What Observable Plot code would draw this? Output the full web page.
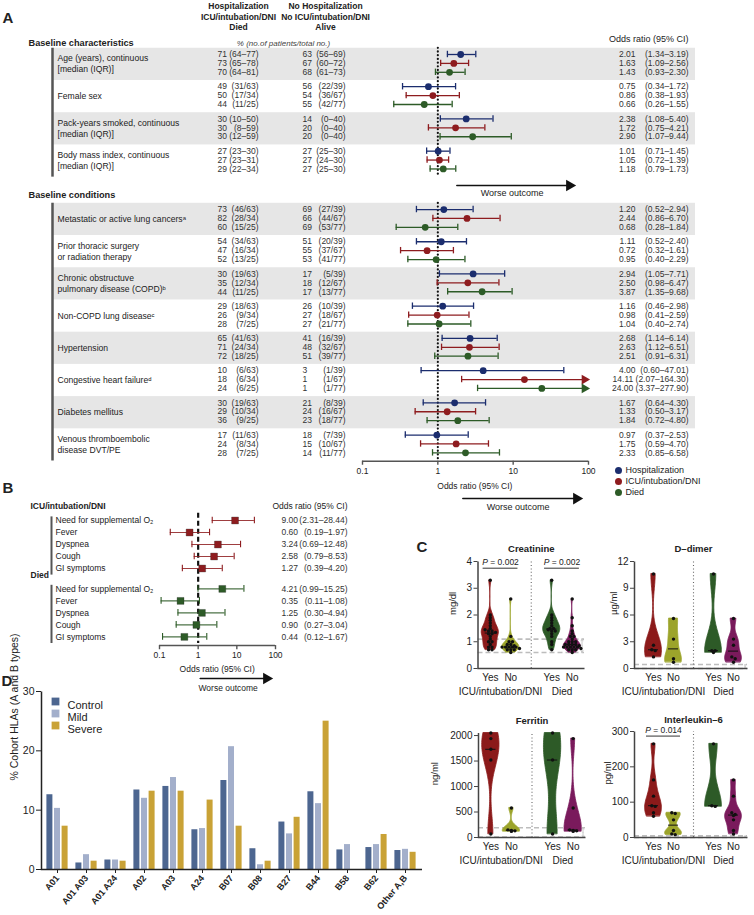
<!DOCTYPE html>
<html><head><meta charset="utf-8">
<script src="https://cdn.jsdelivr.net/npm/d3@7"></script>
<script src="https://cdn.jsdelivr.net/npm/@observablehq/plot@0.6"></script>
<style>
body{margin:0;background:#fff;}
#page{position:relative;width:754px;height:915px;overflow:hidden;background:#fff;}
#page svg{position:absolute;}
</style></head><body><div id="page"></div><script>
// ================= DATA =================
// Panel A
const outcomes = ["Hospitalization", "ICU/intubation/DNI", "Died"];
const outcomeColors = ["#1b2d6e", "#8e1c1f", "#2d5b27"];

const characteristicLabels = [
  "Age (years), continuous\n[median (IQR)]",
  "Female sex",
  "Pack-years smoked, continuous\n[median (IQR)]",
  "Body mass index, continuous\n[median (IQR)]"
];
const characteristicCases = ["71 (64–77)","73 (65–78)","70 (64–81)","49 (31/63)","50 (17/34)","44 (11/25)","30 (10–50)","30 (8–59)","30 (12–59)","27 (23–30)","27 (23–31)","29 (22–34)"];
const characteristicControls = ["63 (56–69)","67 (60–72)","68 (61–73)","56 (22/39)","54 (36/67)","55 (42/77)","14 (0–40)","20 (0–40)","20 (0–40)","27 (25–30)","27 (24–30)","27 (25–30)"];
const characteristicOR = [2.01,1.63,1.43,0.75,0.86,0.66,2.38,1.72,2.90,1.01,1.05,1.18];
const characteristicLow = [1.34,1.09,0.93,0.34,0.38,0.26,1.08,0.75,1.07,0.71,0.72,0.79];
const characteristicHigh = [3.19,2.56,2.30,1.72,1.93,1.55,5.40,4.21,9.44,1.45,1.39,1.73];

const conditionLabels = [
  "Metastatic or active lung cancersᵃ",
  "Prior thoracic surgery\nor radiation therapy",
  "Chronic obstructuve\npulmonary disease (COPD)ᵇ",
  "Non-COPD lung diseaseᶜ",
  "Hypertension",
  "Congestive heart failureᵈ",
  "Diabetes mellitus",
  "Venous thromboembolic\ndisease DVT/PE"
];
const conditionCases = ["73 (46/63)","82 (28/34)","60 (15/25)","54 (34/63)","47 (16/34)","52 (13/25)","30 (19/63)","35 (12/34)","44 (11/25)","29 (18/63)","26 (9/34)","28 (7/25)","65 (41/63)","71 (24/34)","72 (18/25)","10 (6/63)","18 (6/34)","24 (6/25)","30 (19/63)","29 (10/34)","36 (9/25)","17 (11/63)","24 (8/34)","28 (7/25)"];
const conditionControls = ["69 (27/39)","66 (44/67)","69 (53/77)","51 (20/39)","55 (37/67)","53 (41/77)","17 (5/39)","18 (12/67)","17 (13/77)","26 (10/39)","27 (18/67)","27 (21/77)","41 (16/39)","48 (32/67)","51 (39/77)","3 (1/39)","1 (1/67)","1 (1/77)","21 (8/39)","24 (16/67)","23 (18/77)","18 (7/39)","15 (10/67)","14 (11/77)"];
const conditionOR = [1.20,2.44,0.68,1.11,0.72,0.95,2.94,2.50,3.87,1.16,0.98,1.04,2.68,2.63,2.51,4.00,14.11,24.00,1.67,1.33,1.84,0.97,1.75,2.33];
const conditionLow = [0.52,0.86,0.28,0.52,0.32,0.40,1.05,0.98,1.35,0.46,0.41,0.40,1.14,1.12,0.91,0.60,2.07,3.37,0.64,0.50,0.72,0.37,0.59,0.85];
const conditionHigh = [2.94,6.70,1.84,2.40,1.61,2.29,7.71,6.47,9.68,2.98,2.59,2.74,6.14,6.51,6.31,47.01,164.30,277.90,4.30,3.17,4.80,2.53,4.70,6.58];
const orTicks = [0.1, 1, 10, 100];

// Panel B
const symptomGroups = ["ICU/intubation/DNI", "Died"];
const symptoms = ["Need for supplemental O₂","Fever","Dyspnea","Cough","GI symptoms"];
const symptomOR = [9.00,0.60,3.24,2.58,1.27, 4.21,0.35,1.25,0.90,0.44];
const symptomLow = [2.31,0.19,0.69,0.79,0.39, 0.99,0.11,0.30,0.27,0.12];
const symptomHigh = [28.44,1.97,12.48,8.53,4.20, 15.25,1.08,4.94,3.04,1.67];

// Panel C
const violinGroupLabels = ["ICU/intubation/DNI", "Died"];
const violinAnswers = ["Yes","No","Yes","No"];
const violinKeys = ["ICU yes","ICU no","Died yes","Died no"];
const violinColors = ["#8b1a1a","#9ca42b","#2d5a27","#7a1a5c"];
const creatinineValues = [
  [3.3,2.0,1.9,1.8,1.7,1.6,1.5,1.45,1.4,1.4,1.35,1.3,1.3,1.2,1.1,1.0,1.0,0.9,0.8,0.8,0.7,0.7],
  [2.6,1.2,1.0,1.0,0.9,0.9,0.85,0.8,0.8,0.8,0.8,0.8,0.75,0.7,0.7,0.7,0.6],
  [3.3,2.0,1.9,1.8,1.7,1.6,1.5,1.5,1.45,1.4,1.4,1.3,1.2,1.0,0.9,0.7],
  [2.6,1.9,1.6,1.4,1.3,1.2,1.2,1.1,1.0,1.0,1.0,0.9,0.9,0.9,0.9,0.85,0.8,0.8,0.8,0.8,0.8,0.75,0.7,0.7,0.7,0.6]
];
const ddimerValues = [
  [10.6,2.6,2.1,2.0,1.3],
  [5.6,3.3,1.1,0.7],
  [10.6,2.0,2.0,1.8],
  [5.6,3.3,2.6,1.3,1.1,0.7]
];
const ferritinValues = [
  [2050,1940,1730,1520,70],
  [580,150,140,130,120],
  [2050,1520,70],
  [1940,580,150,140,130,120]
];
const il6Values = [
  [265,163,117,90,88,70,60],
  [70,68,50,20,10,8],
  [265,90,88],
  [163,117,70,65,62,50,20,10]
];
const pLabels = ["P = 0.002", "P = 0.002", "P = 0.014"];

// Panel D
const hlaTypes = ["A01","A01 A03","A01 A24","A02","A03","A24","B07","B08","B27","B44","B58","B62","Other A,B"];
const cohorts = ["Control","Mild","Severe"];
const cohortColors = ["#4d6690","#a3afcb","#c9a236"];
const controlPct = [12.6,1.1,1.6,13.4,14.0,6.7,15.0,3.5,8.0,13.1,3.3,3.7,3.2];
const mildPct = [10.3,2.5,1.6,12.0,15.5,6.9,20.7,0.8,6.0,11.1,4.2,4.2,3.4];
const severePct = [7.3,1.4,1.4,13.2,13.2,11.7,7.3,1.4,8.8,25.0,0,5.9,2.9];

// ================= HELPERS =================
const FONT = '"Liberation Sans", Arial, Helvetica, sans-serif';
const page = document.getElementById("page");
function place(svg, left, top) {
  svg.style.left = left + "px"; svg.style.top = top + "px";
  page.appendChild(svg);
  italicP(svg);
}
function styleObj(size) {
  return {fontFamily: FONT, fontSize: size + "px", background: "transparent", overflow: "visible", color: "#222"};
}
function italicP(svg) {
  svg.querySelectorAll("text").forEach(t => {
    if (t.children.length === 0 && t.textContent.startsWith("P = ")) {
      const rest = t.textContent.slice(1);
      t.textContent = "";
      const a = document.createElementNS("http://www.w3.org/2000/svg", "tspan");
      a.setAttribute("font-style", "italic"); a.textContent = "P";
      const b = document.createElementNS("http://www.w3.org/2000/svg", "tspan");
      b.textContent = rest;
      t.append(a, b);
    }
  });
}
const splitStat = s => { const i = s.indexOf(" "); return [s.slice(0, i), s.slice(i + 1)]; };
const fmt = v => v.toFixed(2);
const ciText = d => `(${fmt(d.lo)}–${fmt(d.hi)})`;
const isLong = d => ciText(d).length > 12;
const T = (str, u, opts) => Plot.text([str], {y: () => u, ...opts});

// ================= PANEL A =================
{
  const UNIT = 8.9, U0 = 54, GROUP = 3.62, COND_START = 17.42;
  function buildRows(labels, cases, controls, or, lo, hi, start) {
    const rows = [];
    labels.forEach((label, g) => {
      for (let j = 0; j < 3; j++) {
        const k = g * 3 + j;
        rows.push({g, j, outcome: outcomes[j], u: start + g * GROUP + j, cases: cases[k], controls: controls[k], or: or[k], lo: lo[k], hi: hi[k]});
      }
    });
    return rows;
  }
  const rows = [
    ...buildRows(characteristicLabels, characteristicCases, characteristicControls, characteristicOR, characteristicLow, characteristicHigh, 0),
    ...buildRows(conditionLabels, conditionCases, conditionControls, conditionOR, conditionLow, conditionHigh, COND_START)
  ];
  const groups = [
    ...characteristicLabels.map((label, g) => ({label, g, u0: g * GROUP})),
    ...conditionLabels.map((label, g) => ({label, g, u0: COND_START + g * GROUP}))
  ];
  const sections = [
    {u1: -0.7, u2: 3 * GROUP + 2.92},
    {u1: COND_START - 0.7, u2: COND_START + 7 * GROUP + 2.92}
  ];
  const axisU = sections[1].u2 + 0.02;
  const xmax = orTicks[orTicks.length - 1];
  const legendItems = outcomes.map((o, i) => ({o, u: axisU + 1.04 + i * 1.23}));

  const svg = Plot.plot({
    width: 754, height: 515,
    marginLeft: 52, marginRight: 59, marginTop: 40, marginBottom: 40,
    x: {type: "log", domain: [0.1, 100], range: [362, 588], axis: null},
    y: {domain: [0, 10], range: [U0, U0 + 10 * UNIT], axis: null},
    color: {domain: outcomes, range: outcomeColors},
    style: styleObj(8.5),
    marks: [
      Plot.rect(groups.filter(d => d.g % 2 === 0), {y1: d => d.u0 - 0.7, y2: d => d.u0 + 2.92, fill: "#e6e6e6"}),
      Plot.ruleX(sections, {x: () => 0.1, dx: -310, y1: "u1", y2: "u2", stroke: "#555", strokeWidth: 2.5}),
      Plot.ruleX(sections, {x: () => 1, y1: "u1", y2: "u2", stroke: "#111", strokeWidth: 2.2, strokeDasharray: "0.1,3.6", strokeLinecap: "round"}),
      // CI lines and caps
      Plot.ruleY(rows, {y: "u", x1: "lo", x2: d => Math.min(d.hi, xmax), stroke: "outcome", strokeWidth: 1.3}),
      Plot.ruleX(rows, {x: "lo", y1: d => d.u - 0.36, y2: d => d.u + 0.36, stroke: "outcome", strokeWidth: 1.3}),
      Plot.ruleX(rows.filter(d => d.hi <= xmax), {x: "hi", y1: d => d.u - 0.36, y2: d => d.u + 0.36, stroke: "outcome", strokeWidth: 1.3}),
      Plot.dot(rows.filter(d => d.hi > xmax), {x: () => xmax, y: "u", dx: -4, symbol: "triangle", rotate: 90, r: 3.6, fill: "outcome"}),
      Plot.dot(rows, {x: "or", y: "u", r: 3.4, fill: "outcome"}),
      // label columns
      Plot.text(groups, {y: d => d.u0 + 1, text: "label", frameAnchor: "left", dx: 5, textAnchor: "start", lineHeight: 1.28, fontSize: 8.6, fill: "#222"}),
      Plot.text(rows, {y: "u", text: d => splitStat(d.cases)[0], frameAnchor: "left", dx: 165, textAnchor: "start", fill: "#333"}),
      Plot.text(rows, {y: "u", text: d => splitStat(d.cases)[1], frameAnchor: "left", dx: 206, textAnchor: "end", fill: "#333"}),
      Plot.text(rows, {y: "u", text: d => splitStat(d.controls)[0], frameAnchor: "left", dx: 250, textAnchor: "start", fill: "#333"}),
      Plot.text(rows, {y: "u", text: d => splitStat(d.controls)[1], frameAnchor: "left", dx: 293, textAnchor: "end", fill: "#333"}),
      Plot.text(rows, {y: "u", text: d => isLong(d) ? "" : fmt(d.or), frameAnchor: "right", dx: -60, textAnchor: "end", fill: "#333"}),
      Plot.text(rows, {y: "u", text: d => isLong(d) ? `${fmt(d.or)} ${ciText(d)}` : ciText(d), frameAnchor: "right", dx: -7, textAnchor: "end", fill: "#333"}),
      // headers
      T("A", -4.04, {frameAnchor: "left", dx: -50, textAnchor: "start", fontSize: 15, fontWeight: "bold"}),
      T("Hospitalization\nICU/intubation/DNI\nDied", -4.27, {frameAnchor: "left", dx: 186, textAnchor: "middle", fontWeight: "bold", lineHeight: 1.24}),
      T("No Hospitalization\nNo ICU/intubation/DNI\nAlive", -4.27, {frameAnchor: "left", dx: 273, textAnchor: "middle", fontWeight: "bold", lineHeight: 1.24}),
      T("% (no.of patients/total no.)", -1.24, {frameAnchor: "left", dx: 231, textAnchor: "middle", fontStyle: "italic", fontSize: 8, fill: "#444"}),
      T("Baseline characteristics", -1.24, {frameAnchor: "left", dx: -24, textAnchor: "start", fontWeight: "bold", fontSize: 9.2}),
      T("Baseline conditions", COND_START - 1.58, {frameAnchor: "left", dx: -24, textAnchor: "start", fontWeight: "bold", fontSize: 9.2}),
      T("Odds ratio (95% CI)", -1.69, {frameAnchor: "right", dx: -7, textAnchor: "end", fontSize: 9}),
      // worse outcome arrow (top)
      Plot.arrow([0], {x1: () => 1, x2: () => xmax, y1: () => COND_START - 2.7, y2: () => COND_START - 2.7, insetStart: 19, insetEnd: 19, headLength: 0, stroke: "#111", strokeWidth: 1.5}),
      Plot.dot([0], {x: () => xmax, y: () => COND_START - 2.7, dx: -19, symbol: "triangle", rotate: 90, r: 4.3, fill: "#111"}),
      T("Worse outcome", COND_START - 1.8, {x: () => 10, dx: -1, fontSize: 9}),
      // axis
      Plot.ruleY([axisU], {x1: orTicks[0], x2: xmax, stroke: "#555", strokeWidth: 1.6}),
      Plot.ruleX(orTicks, {x: d => d, y1: axisU, y2: axisU + 0.45, stroke: "#555", strokeWidth: 1.4}),
      Plot.text(orTicks, {x: d => d, y: () => axisU + 1.15, text: d => String(d), fontSize: 8.5}),
      T("Odds ratio (95% CI)", axisU + 2.8, {x: () => 1, dx: 37, fontSize: 8.5}),
      Plot.arrow([0], {x1: () => 1, x2: () => xmax, y1: () => axisU + 4.2, y2: () => axisU + 4.2, insetStart: 25, insetEnd: 12, headLength: 0, stroke: "#111", strokeWidth: 1.5}),
      Plot.dot([0], {x: () => xmax, y: () => axisU + 4.2, dx: -12, symbol: "triangle", rotate: 90, r: 4.3, fill: "#111"}),
      T("Worse outcome", axisU + 5.2, {x: () => 10, dx: 5, fontSize: 9}),
      // legend
      Plot.dot(legendItems, {y: "u", frameAnchor: "right", dx: -77, r: 3.5, fill: "o"}),
      Plot.text(legendItems, {y: "u", text: "o", frameAnchor: "right", dx: -70, textAnchor: "start", fontSize: 9})
    ]
  });
  place(svg, 0, 0);
}

// ================= PANEL B =================
{
  const rows = symptomOR.map((or, k) => {
    const s = Math.floor(k / 5), j = k % 5;
    return {group: symptomGroups[s], s, label: symptoms[j], u: j + s * 5.7, or, lo: symptomLow[k], hi: symptomHigh[k]};
  });
  const heads = symptomGroups.map((g, s) => ({g, u: s * 5.7 - 1.15}));
  const brackets = symptomGroups.map((g, s) => ({u1: s * 5.7 - 0.3, u2: s * 5.7 + 4.55}));
  const axisU = 10.42;
  const svg = Plot.plot({
    width: 380, height: 222,
    marginLeft: 51, marginRight: 33, marginTop: 30, marginBottom: 30,
    x: {type: "log", domain: [0.1, 100], range: [159, 275], axis: null},
    y: {domain: [0, 10], range: [42, 162], axis: null},
    color: {domain: outcomes, range: outcomeColors},
    style: styleObj(8.5),
    marks: [
      T("B", -2.67, {frameAnchor: "left", dx: -49, textAnchor: "start", fontSize: 15, fontWeight: "bold"}),
      Plot.text(heads, {y: "u", text: "g", frameAnchor: "left", dx: -21, textAnchor: "start", fontWeight: "bold", fontSize: 8.5}),
      T("Odds ratio (95% CI)", -1.15, {frameAnchor: "right", textAnchor: "end", fontSize: 8.5}),
      Plot.ruleX(brackets, {x: () => 0.1, dx: -108, y1: "u1", y2: "u2", stroke: "#555", strokeWidth: 2}),
      Plot.ruleX([1], {y1: -0.6, y2: 10.25, stroke: "#111", strokeWidth: 2.2, strokeDasharray: "5,3"}),
      Plot.ruleY(rows, {y: "u", x1: "lo", x2: "hi", stroke: "group", strokeWidth: 1.1, strokeOpacity: 0.85}),
      Plot.ruleX(rows, {x: "lo", y1: d => d.u - 0.28, y2: d => d.u + 0.28, stroke: "group", strokeWidth: 1.1}),
      Plot.ruleX(rows, {x: "hi", y1: d => d.u - 0.28, y2: d => d.u + 0.28, stroke: "group", strokeWidth: 1.1}),
      Plot.dot(rows, {x: "or", y: "u", symbol: "square", r: 3.9, fill: d => d.group, stroke: "#222", strokeWidth: 0.3}),
      Plot.text(rows, {y: "u", text: "label", frameAnchor: "left", dx: 4, textAnchor: "start", fill: "#222"}),
      Plot.text(rows, {y: "u", text: d => fmt(d.or), frameAnchor: "right", dx: -66, textAnchor: "start", fill: "#333"}),
      Plot.text(rows, {y: "u", text: d => ciText(d), frameAnchor: "right", textAnchor: "end", fill: "#333"}),
      Plot.ruleY([axisU], {x1: orTicks[0], x2: orTicks[3], stroke: "#555", strokeWidth: 1.6}),
      Plot.ruleX(orTicks, {x: d => d, y1: axisU, y2: axisU + 0.35, stroke: "#555", strokeWidth: 1.4}),
      Plot.text(orTicks, {x: d => d, y: () => axisU + 0.85, text: d => String(d)}),
      T("Odds ratio (95% CI)", axisU + 2.0, {x: () => 1, dx: 19}),
      Plot.arrow([0], {x1: () => 1, x2: () => 100, y1: () => axisU + 2.75, y2: () => axisU + 2.75, insetStart: 2, insetEnd: 9, headLength: 0, stroke: "#111", strokeWidth: 1.5}),
      Plot.dot([0], {x: () => 100, y: () => axisU + 2.75, dx: -9, symbol: "triangle", rotate: 90, r: 4.3, fill: "#111"}),
      T("Worse outcome", axisU + 3.6, {x: () => 1, dx: 30})
    ]
  });
  place(svg, 0, 478);
}

// ================= PANEL C =================
const posOf = i => i + (i >= 2 ? 1 : 0);
function violinShape(values, i) {
  const lo = d3.min(values), hi = d3.max(values);
  const sd = d3.deviation(values) || (hi - lo) / 4;
  const h = Math.max(0.6 * sd * Math.pow(values.length, -0.2), (hi - lo) * 0.06);
  const n = 60;
  const pts = d3.range(n + 1).map(k => lo + (hi - lo) * k / n);
  const dens = pts.map(y => d3.sum(values, v => Math.exp(-0.5 * ((y - v) / h) ** 2)));
  const m = d3.max(dens);
  return pts.map((y, k) => ({key: violinKeys[i], pos: posOf(i), y, w: dens[k] / m}));
}
function spreadDots(values, i, bin) {
  const out = [];
  const byBin = d3.group(values, v => Math.round(v / bin));
  for (const [, vs] of byBin) {
    vs.forEach((v, k) => out.push({pos: posOf(i) + (k - (vs.length - 1) / 2) * 0.17, v}));
  }
  return out;
}
function violinPanel(o) {
  const {title, unit, values, yDomain, yTicks, box, frame, xDomain, normal, pvals, unitDx, titleDy, letter} = o;
  const shapes = values.flatMap((vals, i) => violinShape(vals, i));
  const bin = (yDomain[1] - yDomain[0]) / 40;
  const dots = values.flatMap((vals, i) => spreadDots(vals, i, bin));
  const medians = values.map((vals, i) => ({pos: posOf(i), v: d3.median(vals)}));
  const sep = (posOf(1) + posOf(2)) / 2;
  const fw = frame.right - frame.left, fh = frame.bottom - frame.top;
  const groupsX = [(posOf(0) + posOf(1)) / 2, (posOf(2) + posOf(3)) / 2];
  const arrowX = xDomain[1] - 0.12;
  const mid = (normal[0] + normal[1]) / 2;
  const marks = [
    Plot.ruleY(normal, {y: d => d, stroke: "#bdbdbd", strokeWidth: 1.6, strokeDasharray: "5,3"}),
    Plot.arrow(normal, {x1: () => arrowX, x2: () => arrowX, y1: () => mid, y2: d => d, stroke: "#c8c8c8", headLength: 3, strokeWidth: 1}),
    Plot.ruleX([sep], {y1: yDomain[0], y2: yDomain[1], stroke: "#666", strokeDasharray: "1,2.4", strokeWidth: 1.1}),
    Plot.areaX(shapes, {y: "y", x1: d => d.pos - 0.42 * d.w, x2: d => d.pos + 0.42 * d.w, z: "key", fill: "key", stroke: "key", strokeWidth: 0.8, curve: "basis"}),
    Plot.ruleY(medians, {y: "v", x1: d => d.pos - 0.25, x2: d => d.pos + 0.25, stroke: "#111", strokeWidth: 1}),
    Plot.dot(dots, {x: "pos", y: "v", r: 1.7, fill: "#111"}),
    Plot.frame({stroke: "#444", strokeWidth: 1.5, strokeDasharray: `0,${fw + fh},${fw + fh}`}),
    Plot.axisY({ticks: yTicks, tickFormat: d => String(d), tickSize: 4, tickPadding: 2, fontSize: 10, label: null, stroke: "#444"}),
    Plot.text(violinAnswers, {x: (d, i) => posOf(i), frameAnchor: "bottom", dy: 12, fontSize: 10}),
    Plot.text(violinGroupLabels, {x: (d, i) => groupsX[i], frameAnchor: "bottom", dy: 26.5, fontSize: 10}),
    Plot.text([title], {x: () => sep, frameAnchor: "top", dy: titleDy, fontWeight: "bold", fontSize: 9.5}),
    Plot.text([unit], {frameAnchor: "left", dx: unitDx, rotate: -90, fontSize: 9.5})
  ];
  if (pvals.length) {
    marks.push(
      Plot.ruleY(pvals, {y: "y", x1: d => posOf(d.a) - 0.35, x2: d => posOf(d.b) + 0.35, stroke: "#333", strokeWidth: 1}),
      Plot.text(pvals, {x: d => (posOf(d.a) + posOf(d.b)) / 2, y: "y", dy: -5.5, text: "label", fontSize: 8.5})
    );
  }
  if (letter) marks.push(Plot.text([letter], {frameAnchor: "top-left", dx: frame.letterDx, dy: -20, textAnchor: "start", fontWeight: "bold", fontSize: 15}));
  const svg = Plot.plot({
    width: box.w, height: box.h,
    marginLeft: frame.left - box.left, marginRight: box.left + box.w - frame.right,
    marginTop: frame.top - box.top, marginBottom: box.top + box.h - frame.bottom,
    x: {domain: xDomain, axis: null},
    y: {domain: yDomain, axis: null},
    color: {domain: violinKeys, range: violinColors},
    style: styleObj(10),
    marks
  });
  place(svg, box.left, box.top);
}
violinPanel({
  title: "Creatinine", unit: "mg/dl", values: creatinineValues, yDomain: [0, 4], yTicks: [0,1,2,3,4],
  box: {left: 400, top: 520, w: 190, h: 185}, frame: {left: 477.5, right: 584, top: 561, bottom: 668, letterDx: -61.5},
  xDomain: [-0.6, 4.6], normal: [0.6, 1.1], unitDx: -25.5, titleDy: -16, letter: "C",
  pvals: [{a: 0, b: 1, y: 3.75, label: pLabels[0]}, {a: 2, b: 3, y: 3.75, label: pLabels[1]}]
});
violinPanel({
  title: "D–dimer", unit: "µg/ml", values: ddimerValues, yDomain: [0, 12], yTicks: [0,3,6,9,12],
  box: {left: 590, top: 520, w: 164, h: 185}, frame: {left: 634, right: 747, top: 561, bottom: 668},
  xDomain: [-0.95, 4.7], normal: [0, 0.45], unitDx: -21, titleDy: -16, pvals: []
});
violinPanel({
  title: "Ferritin", unit: "ng/ml", values: ferritinValues, yDomain: [0, 2050], yTicks: [0,500,1000,1500,2000],
  box: {left: 400, top: 700, w: 190, h: 175}, frame: {left: 478, right: 585, top: 732.5, bottom: 837},
  xDomain: [-0.6, 4.6], normal: [10, 190], unitDx: -44, titleDy: -15.5, pvals: []
});
violinPanel({
  title: "Interleukin–6", unit: "pg/ml", values: il6Values, yDomain: [0, 300], yTicks: [0,100,200,300],
  box: {left: 590, top: 700, w: 164, h: 175}, frame: {left: 634, right: 747, top: 731, bottom: 837},
  xDomain: [-0.95, 4.7], normal: [0, 5], unitDx: -27, titleDy: -15.5,
  pvals: [{a: 0, b: 1, y: 287, label: pLabels[2]}]
});

// ================= PANEL D =================
{
  const pctBy = [controlPct, mildPct, severePct];
  const rows = cohorts.flatMap((c, s) => hlaTypes.map((t, i) => ({type: t, cohort: c, pct: pctBy[s][i]})));
  const W = 430, H = 250, mL = 41, mR = 8.5, mT = 26, mB = 46;
  const fw = W - mL - mR, fh = H - mT - mB;
  const svg = Plot.plot({
    width: W, height: H, marginLeft: mL, marginRight: mR, marginTop: mT, marginBottom: mB,
    x: {domain: hlaTypes, paddingInner: 0.78, paddingOuter: 0.384, axis: null},
    y: {domain: [0, 30], axis: null},
    color: {domain: cohorts, range: cohortColors},
    style: styleObj(10),
    marks: [
      ...cohorts.map((c, s) => Plot.barY(rows.filter(d => d.cohort === c), {x: "type", y: "pct", fill: "cohort", dx: (s - 1) * 7.6})),
      Plot.frame({stroke: "#222", strokeWidth: 1.5, strokeDasharray: `0,${fw + fh},${fw + fh}`}),
      Plot.axisY({ticks: [0, 10, 20, 30], tickFormat: d => String(d), tickSize: 5, tickPadding: 2, fontSize: 10.5, label: null, stroke: "#222"}),
      Plot.axisX({tickRotate: -50, tickSize: 4, tickPadding: 3, fontSize: 9, fontWeight: "bold", label: null, stroke: "#222"}),
      Plot.text(["% Cohort HLAs (A and B types)"], {frameAnchor: "left", dx: -27, rotate: -90, fontSize: 10.5}),
      Plot.text(["D"], {frameAnchor: "top-left", dx: -40, dy: -16, textAnchor: "start", fontWeight: "bold", fontSize: 15}),
      ...cohorts.flatMap((c, s) => [
        Plot.dot([c], {frameAnchor: "top-left", dx: 14, dy: 10 + 12 * s, symbol: "square", r: 4.4, fill: d => d}),
        Plot.text([c], {frameAnchor: "top-left", dx: 26, dy: 10 + 12 * s, textAnchor: "start", fontSize: 11})
      ])
    ]
  });
  place(svg, 0, 665);
}
</script></body></html>
